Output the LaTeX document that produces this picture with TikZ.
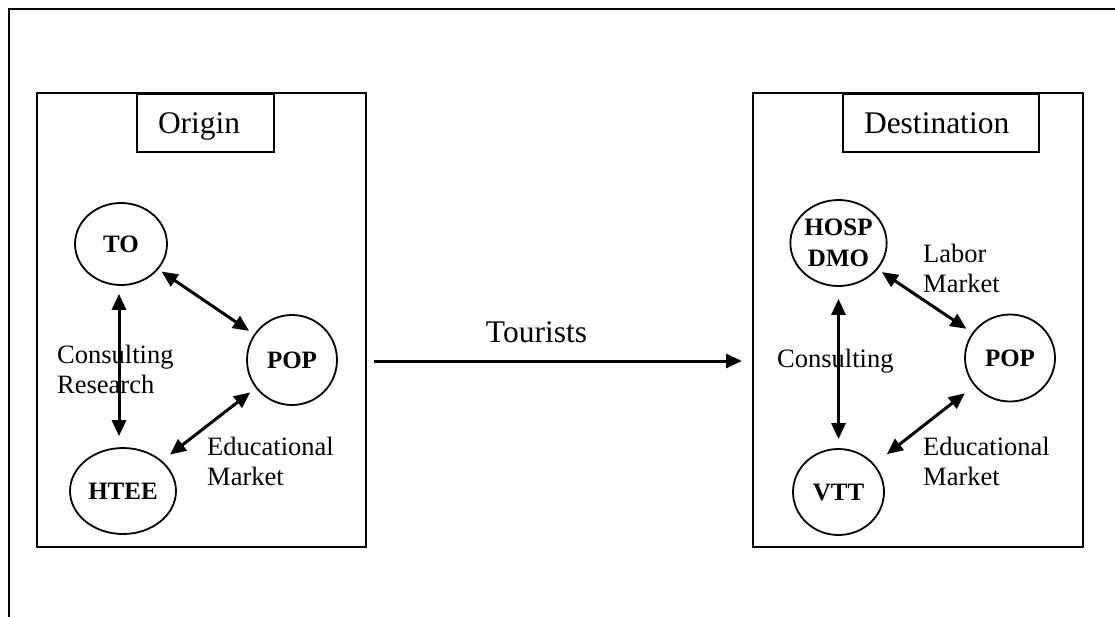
\documentclass[tikz,border=0pt]{standalone}
\usepackage{fontspec}
\setmainfont{Liberation Serif}
\usetikzlibrary{shapes.geometric,arrows.meta}
\begin{document}
\begin{tikzpicture}[x=1pt,y=-1pt,
  region/.style={draw,line width=2pt,inner sep=0,minimum width=330pt,minimum height=454pt},
  titlebox/.style={draw,line width=2pt,font=\fontsize{31.5}{36}\selectfont,inner xsep=21pt,inner ysep=0pt,minimum height=58pt,text height=24pt,text depth=4pt,align=left,anchor=north west},
  ent/.style={draw,ellipse,line width=1.8pt,inner sep=0pt,font=\fontsize{25}{31}\selectfont\bfseries,align=center},
  lbl/.style={font=\fontsize{26.5}{30}\selectfont,align=left,inner sep=0pt,anchor=base west},
  link/.style={line width=3pt,{Triangle[length=16pt,width=14pt]}-{Triangle[length=16pt,width=14pt]}},
  flow/.style={line width=3pt,-{Triangle[length=16pt,width=14pt]}}
]
\clip (0,0) rectangle (1115,616);
\draw[line width=2.4pt] (9,9) rectangle (1130,630);

% regions
\node[region,minimum width=329pt] (origin) at (201.5,320) {};
\node[region] (dest) at (918,320) {};
\node[titlebox,text width=95pt] (origint) at (136,93) {Origin};
\node[titlebox,text width=154pt] (destt) at (842,93) {Destination};

% origin entities
\node[ent,minimum width=92pt,minimum height=82pt] (to) at (121,244) {TO};
\node[ent,minimum width=90pt,minimum height=90pt] (pop1) at (292,360) {POP};
\node[ent,minimum width=106pt,minimum height=86pt] (htee) at (123,491) {HTEE};

% destination entities
\node[ent,minimum width=91pt,minimum height=86pt] (hosp) at (838.5,243) {HOSP\\DMO};
\node[ent,minimum width=90pt,minimum height=87pt] (pop2) at (1010,358) {POP};
\node[ent,minimum width=91pt,minimum height=86pt] (vtt) at (838.5,492) {VTT};

% origin links
\draw[link,shorten <=4pt,shorten >=6pt] (to) -- (pop1);
\draw[link,shorten <=8pt,shorten >=11pt] ([xshift=-2pt]to.south) -- ([xshift=-2pt]to.south |- htee.north);
\draw[link,shorten <=10pt,shorten >=7pt] (htee) -- (pop1);

% destination links
\draw[link,shorten <=5pt,shorten >=7pt] (hosp) -- (pop2);
\draw[link,shorten <=12pt,shorten >=9pt] (hosp.south) -- (hosp.south |- vtt.north);
\draw[link,shorten <=16pt,shorten >=12pt] (vtt) -- (pop2);

% tourists
\draw[flow,shorten <=7pt,shorten >=10pt] (origin.east |- 0,361) -- (dest.west |- 0,361);
\node[font=\fontsize{31.5}{36}\selectfont,inner sep=0pt,anchor=base] (tour) at (536.5,342) {Tourists};

% labels (base anchor = baseline of last line)
\node[lbl] (cr) at (57,393) {Consulting\\Research};
\node[lbl] (em1) at (207,485) {Educational\\Market};
\node[lbl] (lm) at (923,292) {Labor\\Market};
\node[lbl] (cons2) at (777,367) {Consulting};
\node[lbl] (em2) at (923,485) {Educational\\Market};
\end{tikzpicture}
\end{document}
